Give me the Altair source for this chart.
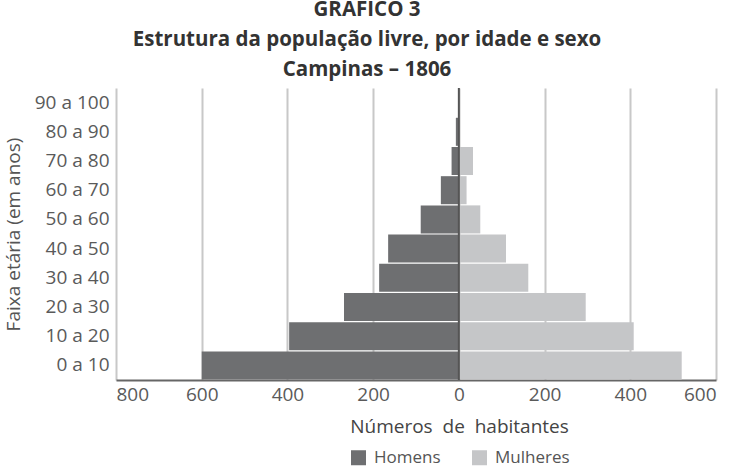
import altair as alt
import pandas as pd

ages = ["0 a 10", "10 a 20", "20 a 30", "30 a 40", "40 a 50",
        "50 a 60", "60 a 70", "70 a 80", "80 a 90", "90 a 100"]
homens = [600, 396, 268, 186, 165, 89, 42, 17, 7, 2]
mulheres = [520, 408, 296, 162, 110, 50, 18, 33, 1, 0]
sexes = ["Homens", "Mulheres"]
x_ticks = [-800, -600, -400, -200, 0, 200, 400, 600]

rows = []
for a, h, m in zip(ages, homens, mulheres):
    rows.append({"idade": a, "sexo": "Homens", "valor": -h})
    rows.append({"idade": a, "sexo": "Mulheres", "valor": m})
df = pd.DataFrame(rows)

FONT = "Open Sans"
order_top = list(reversed(ages))

bars = alt.Chart(df).mark_bar(stroke=None).encode(
    y=alt.Y("idade:N", sort=order_top, scale=alt.Scale(paddingInner=0.04, paddingOuter=0.02),
            axis=alt.Axis(title="Faixa etária (em anos)", domain=False, ticks=False,
                          labelFontSize=19, labelColor="#5a5a5a", labelFont=FONT,
                          labelPadding=7, titleFont=FONT, titleFontSize=19,
                          titleFontWeight="normal", titleColor="#555555",
                          titleX=-103, titleBaseline="middle", grid=False)),
    x=alt.X("valor:Q", stack=None,
            scale=alt.Scale(domain=[-800, 600], nice=False),
            axis=alt.Axis(values=x_ticks, labelExpr="format(abs(datum.value), 'd')",
                          title="Números\u00a0 de\u00a0 habitantes",
                          titleX=343, titleY=52, titleBaseline="alphabetic",
                          titleAlign="center",
                          titleFont=FONT, titleFontSize=19, titleFontWeight="normal",
                          titleColor="#444444",
                          labelFontSize=19, labelColor="#5a5a5a", labelFont=FONT,
                          labelPadding=5, ticks=False,
                          domainColor="#666666", domainWidth=2,
                          grid=True, gridColor="#c8c8c8", gridWidth=2)),
    color=alt.Color("sexo:N", scale=alt.Scale(domain=sexes, range=["#6e6f71", "#c5c6c8"]),
                    legend=alt.Legend(title=None, orient="none", direction="horizontal",
                                      legendX=234, legendY=361, symbolType="square",
                                      symbolSize=225, symbolStrokeWidth=0,
                                      labelFont=FONT, labelFontSize=17,
                                      labelColor="#555555", columnPadding=30,
                                      labelOffset=7, symbolOpacity=1)),
)

zero = alt.Chart(pd.DataFrame({"z": [0]})).mark_rule(color="#555555", strokeWidth=2).encode(
    x=alt.X("z:Q")
)

chart = alt.layer(bars, zero).properties(
    width=600, height=292,
    padding={"left": 116, "top": 88, "right": 18, "bottom": 88},
    autosize=alt.AutoSizeParams(type="none"),
    title=alt.TitleParams(
        text=["GRÁFICO 3", "Estrutura da população livre, por idade e sexo", "Campinas – 1806"],
        font=FONT, fontSize=20.5, fontWeight="bold", color="#333333",
        lineHeight=30, anchor="middle", dx=-49, offset=7,
    ),
).configure_view(stroke=None)

chart.save("out.html", embed_options={"renderer": "svg", "actions": False})
